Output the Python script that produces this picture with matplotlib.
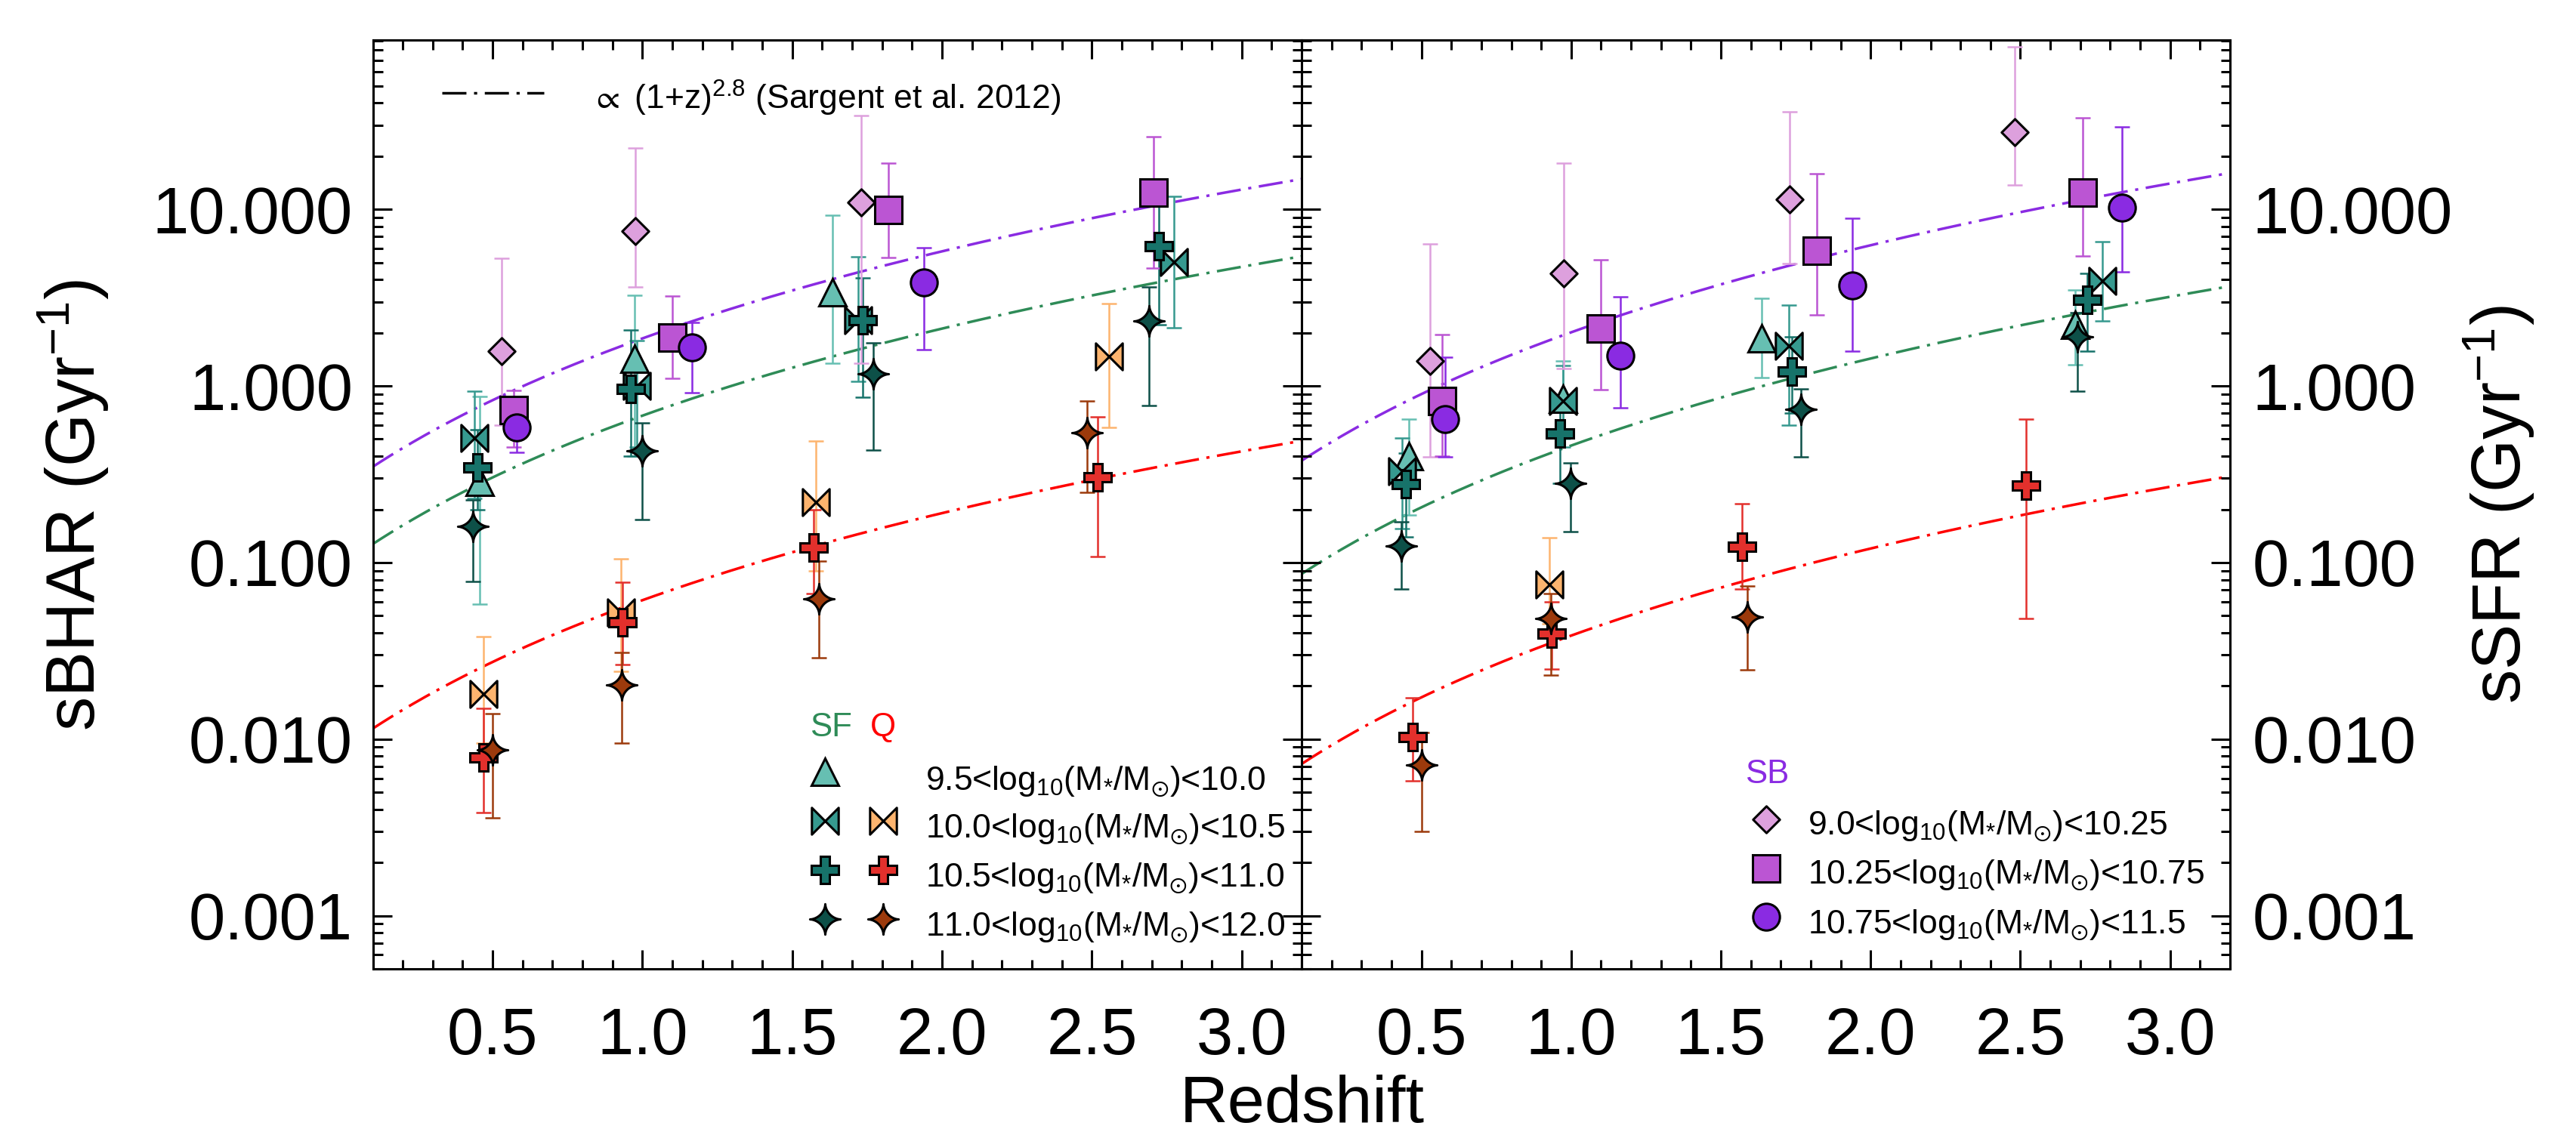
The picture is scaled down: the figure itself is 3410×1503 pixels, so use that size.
import numpy as np
import matplotlib
matplotlib.use('Agg')
import matplotlib.pyplot as plt
from matplotlib.path import Path
from matplotlib.ticker import FixedLocator, LogLocator, MultipleLocator, NullFormatter

plt.rcParams['font.family'] = ['Liberation Sans', 'DejaVu Sans']
plt.rcParams['mathtext.fontset'] = 'custom'
plt.rcParams['mathtext.rm'] = 'Liberation Sans'
plt.rcParams['mathtext.it'] = 'Liberation Sans:italic'
plt.rcParams['mathtext.bf'] = 'Liberation Sans:bold'
plt.rcParams['mathtext.sf'] = 'Liberation Sans'
plt.rcParams['mathtext.fallback'] = 'stixsans'

# ---------------- data: left panel (sBHAR) ----------------
bhar_sf_tri_z = [0.457, 0.973, 1.635]
bhar_sf_tri_y = [0.287, 1.42, 3.38]
bhar_sf_tri_lo = [0.058, 0.40, 1.34]
bhar_sf_tri_hi = [0.87, 3.27, 9.25]

bhar_sf_bow_z = [0.44, 0.98, 1.72, 2.774]
bhar_sf_bow_y = [0.505, 1.0, 2.36, 5.05]
bhar_sf_bow_lo = [0.23, 0.45, 1.06, 2.14]
bhar_sf_bow_hi = [0.93, 1.8, 5.4, 11.9]

bhar_sf_crs_z = [0.448, 0.96, 1.736, 2.724]
bhar_sf_crs_y = [0.346, 0.96, 2.36, 6.21]
bhar_sf_crs_lo = [0.20, 0.40, 0.865, 2.23]
bhar_sf_crs_hi = [0.568, 2.08, 4.08, 11.0]

bhar_sf_star_z = [0.433, 0.998, 1.77, 2.69]
bhar_sf_star_y = [0.16, 0.43, 1.17, 2.34]
bhar_sf_star_lo = [0.078, 0.176, 0.435, 0.776]
bhar_sf_star_hi = [0.227, 0.62, 1.75, 3.63]

bhar_q_bow_z = [0.47, 0.928, 1.58, 2.557]
bhar_q_bow_y = [0.018, 0.052, 0.22, 1.47]
bhar_q_bow_lo = [0.0095, 0.0243, 0.09, 0.58]
bhar_q_bow_hi = [0.038, 0.105, 0.486, 2.92]

bhar_q_crs_z = [0.47, 0.934, 1.57, 2.52]
bhar_q_crs_y = [0.0079, 0.046, 0.122, 0.304]
bhar_q_crs_lo = [0.00384, 0.0265, 0.067, 0.108]
bhar_q_crs_hi = [0.015, 0.077, 0.20, 0.67]

bhar_q_star_z = [0.50, 0.931, 1.588, 2.483]
bhar_q_star_y = [0.0087, 0.0202, 0.062, 0.546]
bhar_q_star_lo = [0.00359, 0.0095, 0.029, 0.25]
bhar_q_star_hi = [0.014, 0.031, 0.102, 0.82]

bhar_sb_dia_z = [0.53, 0.976, 1.73]
bhar_sb_dia_y = [1.57, 7.55, 11.0]
bhar_sb_dia_lo = [0.6, 3.65, 1.34]
bhar_sb_dia_hi = [5.3, 22.2, 34.0]

bhar_sb_sq_z = [0.57, 1.10, 1.82, 2.707]
bhar_sb_sq_y = [0.73, 1.88, 9.9, 12.5]
bhar_sb_sq_lo = [0.45, 1.10, 5.35, 4.67]
bhar_sb_sq_hi = [0.94, 3.23, 18.3, 25.7]

bhar_sb_cir_z = [0.58, 1.165, 1.94]
bhar_sb_cir_y = [0.58, 1.65, 3.84]
bhar_sb_cir_lo = [0.42, 0.92, 1.6]
bhar_sb_cir_hi = [0.79, 2.29, 6.07]

# ---------------- data: right panel (sSFR) ----------------
ssfr_sf_tri_z = [0.457, 0.973, 1.635, 2.684]
ssfr_sf_tri_y = [0.40, 0.85, 1.87, 2.23]
ssfr_sf_tri_lo = [0.185, 0.50, 1.11, 1.32]
ssfr_sf_tri_hi = [0.646, 1.39, 3.14, 3.51]

ssfr_sf_bow_z = [0.435, 0.973, 1.728, 2.774]
ssfr_sf_bow_y = [0.329, 0.82, 1.69, 3.95]
ssfr_sf_bow_lo = [0.155, 0.45, 0.60, 2.33]
ssfr_sf_bow_hi = [0.505, 1.30, 2.87, 6.56]

ssfr_sf_crs_z = [0.448, 0.963, 1.738, 2.724]
ssfr_sf_crs_y = [0.278, 0.536, 1.21, 3.07]
ssfr_sf_crs_lo = [0.14, 0.28, 0.70, 1.58]
ssfr_sf_crs_hi = [0.416, 0.75, 1.9, 4.32]

ssfr_sf_star_z = [0.433, 0.998, 1.768, 2.69]
ssfr_sf_star_y = [0.124, 0.28, 0.738, 1.9]
ssfr_sf_star_lo = [0.071, 0.149, 0.395, 0.936]
ssfr_sf_star_hi = [0.17, 0.365, 0.96, 2.6]

ssfr_q_bow_z = [0.928]
ssfr_q_bow_y = [0.0754]
ssfr_q_bow_lo = [0.045]
ssfr_q_bow_hi = [0.138]

ssfr_q_crs_z = [0.47, 0.934, 1.57, 2.52]
ssfr_q_crs_y = [0.0103, 0.0395, 0.123, 0.273]
ssfr_q_crs_lo = [0.00578, 0.025, 0.071, 0.048]
ssfr_q_crs_hi = [0.0171, 0.06, 0.216, 0.646]

ssfr_q_star_z = [0.50, 0.933, 1.588]
ssfr_q_star_y = [0.00716, 0.048, 0.049]
ssfr_q_star_lo = [0.0030, 0.0231, 0.0248]
ssfr_q_star_hi = [0.0109, 0.067, 0.074]

ssfr_sb_dia_z = [0.53, 0.976, 1.73, 2.48]
ssfr_sb_dia_y = [1.38, 4.32, 11.4, 27.3]
ssfr_sb_dia_lo = [0.395, 1.26, 4.92, 13.8]
ssfr_sb_dia_hi = [6.38, 18.3, 35.8, 83.0]

ssfr_sb_sq_z = [0.57, 1.10, 1.82, 2.707]
ssfr_sb_sq_y = [0.82, 2.12, 5.83, 12.4]
ssfr_sb_sq_lo = [0.40, 0.955, 2.53, 5.46]
ssfr_sb_sq_hi = [1.96, 5.19, 16.0, 33.1]

ssfr_sb_cir_z = [0.58, 1.165, 1.94, 2.84]
ssfr_sb_cir_y = [0.65, 1.49, 3.7, 10.2]
ssfr_sb_cir_lo = [0.395, 0.753, 1.58, 4.44]
ssfr_sb_cir_hi = [1.45, 3.19, 8.9, 29.3]

# (1+z)^2.8 normalisations (Sargent et al. 2012 scaling)
model_index = 2.8
bhar_norm_sb, bhar_norm_sf, bhar_norm_q = 0.267, 0.0975, 0.00879
ssfr_norm_sb, ssfr_norm_sf, ssfr_norm_q = 0.289, 0.066, 0.00554

# tick labels / text
y_ticks = [1e-3, 1e-2, 1e-1, 1.0, 10.0]
y_ticklabels = ['0.001', '0.010', '0.100', '1.000', '10.000']
x_ticks = [0.5, 1.0, 1.5, 2.0, 2.5, 3.0]
x_ticklabels = ['0.5', '1.0', '1.5', '2.0', '2.5', '3.0']
sfq_labels = [r'9.5<log$_{10}$(M$_{*}$/M$_{\odot}$)<10.0',
              r'10.0<log$_{10}$(M$_{*}$/M$_{\odot}$)<10.5',
              r'10.5<log$_{10}$(M$_{*}$/M$_{\odot}$)<11.0',
              r'11.0<log$_{10}$(M$_{*}$/M$_{\odot}$)<12.0']
sb_labels = [r'9.0<log$_{10}$(M$_{*}$/M$_{\odot}$)<10.25',
             r'10.25<log$_{10}$(M$_{*}$/M$_{\odot}$)<10.75',
             r'10.75<log$_{10}$(M$_{*}$/M$_{\odot}$)<11.5']

# ---------------- styles ----------------
C_SF1, C_SF2, C_SF3, C_SF4 = '#66bfb2', '#36998f', '#17736a', '#0d5048'
C_Q2, C_Q3, C_Q4 = '#fdb46e', '#e3302c', '#9c3a0c'
C_SB1, C_SB2, C_SB3 = '#dda0dd', '#bb55d3', '#8a2be2'
L_SB, L_SF, L_Q = '#8a2be2', '#2e8b57', '#ff0000'

bowtie = Path([(-1, -1), (-1, 1), (1, -1), (1, 1), (-1, -1)],
              [Path.MOVETO, Path.LINETO, Path.LINETO, Path.LINETO, Path.CLOSEPOLY])
diamond = Path([(0, 1), (1, 0), (0, -1), (-1, 0), (0, 1)],
               [Path.MOVETO, Path.LINETO, Path.LINETO, Path.LINETO, Path.CLOSEPOLY])
_t = np.linspace(0, 2 * np.pi, 241)[:-1]
_e = 2 / 0.6
_sx = np.sign(np.cos(_t)) * np.abs(np.cos(_t)) ** _e
_sy = np.sign(np.sin(_t)) * np.abs(np.sin(_t)) ** _e
_sv = np.vstack([np.column_stack([_sx, _sy]), [[_sx[0], _sy[0]]]])
star4 = Path(_sv, [Path.MOVETO] + [Path.LINETO] * (len(_sx) - 1) + [Path.CLOSEPOLY])

MS = 25.5
MS_STAR = 29
MEW = 2.2
DASH = (0, (9.2, 2.9, 1.2, 2.9))

W, H = 3410, 1503
fig = plt.figure(figsize=(W / 100, H / 100), dpi=100)
axL = fig.add_axes([493.5 / W, 1 - 1283 / H, 1229.5 / W, 1230 / H])
axR = fig.add_axes([1723 / W, 1 - 1283 / H, 1229 / W, 1230 / H])


def series(ax, z, y, lo, hi, marker, color, ms=MS):
    z = np.asarray(z, float)
    y = np.asarray(y, float)
    yerr = [y - np.asarray(lo, float), np.asarray(hi, float) - y]
    ax.errorbar(z, y, yerr=yerr, fmt='none', ecolor=color, elinewidth=1.8,
                capsize=7, capthick=1.8, zorder=2)
    ax.plot(z, y, linestyle='none', marker=marker, ms=ms, mfc=color,
            mec='black', mew=MEW, zorder=3)


zgrid = np.linspace(0.1, 3.2, 300)
for ax, norms in ((axL, (bhar_norm_sb, bhar_norm_sf, bhar_norm_q)),
                  (axR, (ssfr_norm_sb, ssfr_norm_sf, ssfr_norm_q))):
    for nrm, col in zip(norms, (L_SB, L_SF, L_Q)):
        ax.plot(zgrid, nrm * (1 + zgrid) ** model_index, color=col, lw=2.5,
                linestyle=DASH, zorder=1)

# left panel points
series(axL, bhar_sf_tri_z, bhar_sf_tri_y, bhar_sf_tri_lo, bhar_sf_tri_hi, '^', C_SF1)
series(axL, bhar_sf_bow_z, bhar_sf_bow_y, bhar_sf_bow_lo, bhar_sf_bow_hi, bowtie, C_SF2)
series(axL, bhar_sf_crs_z, bhar_sf_crs_y, bhar_sf_crs_lo, bhar_sf_crs_hi, 'P', C_SF3)
series(axL, bhar_sf_star_z, bhar_sf_star_y, bhar_sf_star_lo, bhar_sf_star_hi, star4, C_SF4, MS_STAR)
series(axL, bhar_q_bow_z, bhar_q_bow_y, bhar_q_bow_lo, bhar_q_bow_hi, bowtie, C_Q2)
series(axL, bhar_q_crs_z, bhar_q_crs_y, bhar_q_crs_lo, bhar_q_crs_hi, 'P', C_Q3)
series(axL, bhar_q_star_z, bhar_q_star_y, bhar_q_star_lo, bhar_q_star_hi, star4, C_Q4, MS_STAR)
series(axL, bhar_sb_dia_z, bhar_sb_dia_y, bhar_sb_dia_lo, bhar_sb_dia_hi, diamond, C_SB1)
series(axL, bhar_sb_sq_z, bhar_sb_sq_y, bhar_sb_sq_lo, bhar_sb_sq_hi, 's', C_SB2)
series(axL, bhar_sb_cir_z, bhar_sb_cir_y, bhar_sb_cir_lo, bhar_sb_cir_hi, 'o', C_SB3)

# right panel points
series(axR, ssfr_sf_tri_z, ssfr_sf_tri_y, ssfr_sf_tri_lo, ssfr_sf_tri_hi, '^', C_SF1)
series(axR, ssfr_sf_bow_z, ssfr_sf_bow_y, ssfr_sf_bow_lo, ssfr_sf_bow_hi, bowtie, C_SF2)
series(axR, ssfr_sf_crs_z, ssfr_sf_crs_y, ssfr_sf_crs_lo, ssfr_sf_crs_hi, 'P', C_SF3)
series(axR, ssfr_sf_star_z, ssfr_sf_star_y, ssfr_sf_star_lo, ssfr_sf_star_hi, star4, C_SF4, MS_STAR)
series(axR, ssfr_q_bow_z, ssfr_q_bow_y, ssfr_q_bow_lo, ssfr_q_bow_hi, bowtie, C_Q2)
series(axR, ssfr_q_crs_z, ssfr_q_crs_y, ssfr_q_crs_lo, ssfr_q_crs_hi, 'P', C_Q3)
series(axR, ssfr_q_star_z, ssfr_q_star_y, ssfr_q_star_lo, ssfr_q_star_hi, star4, C_Q4, MS_STAR)
series(axR, ssfr_sb_dia_z, ssfr_sb_dia_y, ssfr_sb_dia_lo, ssfr_sb_dia_hi, diamond, C_SB1)
series(axR, ssfr_sb_sq_z, ssfr_sb_sq_y, ssfr_sb_sq_lo, ssfr_sb_sq_hi, 's', C_SB2)
series(axR, ssfr_sb_cir_z, ssfr_sb_cir_y, ssfr_sb_cir_lo, ssfr_sb_cir_hi, 'o', C_SB3)

for ax in (axL, axR):
    ax.set_yscale('log')
    ax.set_xlim(0.1, 3.2)
    ax.set_ylim(5e-4, 91)
    ax.yaxis.set_major_locator(FixedLocator(y_ticks))
    ax.yaxis.set_minor_locator(LogLocator(base=10, subs=np.arange(2, 10)))
    ax.yaxis.set_minor_formatter(NullFormatter())
    ax.set_yticklabels(y_ticklabels)
    ax.set_xticks(x_ticks)
    ax.set_xticklabels(x_ticklabels)
    ax.xaxis.set_minor_locator(MultipleLocator(0.1))
    ax.tick_params(which='both', direction='in', top=True, bottom=True,
                   left=True, right=True, width=2.2, labelsize=62.5)
    ax.tick_params(which='major', length=18)
    ax.tick_params(which='minor', length=9)
    ax.tick_params(axis='x', pad=36)
    for sp in ax.spines.values():
        sp.set_linewidth(2.2)

axL.tick_params(axis='y', labelleft=True, labelright=False, pad=19)
axR.tick_params(axis='y', labelleft=False, labelright=True, pad=21)

# top-left model legend
axL.plot([0.0741, 0.1845], [0.9431, 0.9431], transform=axL.transAxes,
         color='black', lw=2.5, linestyle=DASH, clip_on=False)
axL.text(0.2343, 0.9252, r'$\propto$ (1+z)$^{2.8}$ (Sargent et al. 2012)',
         transform=axL.transAxes, fontsize=32, va='baseline', ha='left')

# SF / Q legend
axL.text(0.4703, 0.2505, 'SF', color=L_SF, transform=axL.transAxes,
         fontsize=31.5, va='baseline', ha='left')
axL.text(0.5354, 0.2505, 'Q', color=L_Q, transform=axL.transAxes,
         fontsize=31.5, va='baseline', ha='left')
row_y = [0.2122, 0.1593, 0.1063, 0.0538]
txt_y = [0.1932, 0.1415, 0.0886, 0.0361]
sf_marks = [('^', C_SF1, MS), (bowtie, C_SF2, MS), ('P', C_SF3, MS), (star4, C_SF4, MS_STAR)]
q_marks = [None, (bowtie, C_Q2, MS), ('P', C_Q3, MS), (star4, C_Q4, MS_STAR)]
for i in range(4):
    m, c, s = sf_marks[i]
    axL.plot([0.4866], [row_y[i]], transform=axL.transAxes, linestyle='none',
             marker=m, ms=s, mfc=c, mec='black', mew=MEW, clip_on=False)
    if q_marks[i] is not None:
        m, c, s = q_marks[i]
        axL.plot([0.5496], [row_y[i]], transform=axL.transAxes, linestyle='none',
                 marker=m, ms=s, mfc=c, mec='black', mew=MEW, clip_on=False)
    axL.text(0.5947, txt_y[i], sfq_labels[i], transform=axL.transAxes,
             fontsize=32, va='baseline', ha='left')

# SB legend
axR.text(0.4776, 0.1996, 'SB', color=L_SB, transform=axR.transAxes,
         fontsize=31.5, va='baseline', ha='left')
sb_row_y = [0.161, 0.1085, 0.0564]
sb_txt_y = [0.1447, 0.0919, 0.0387]
sb_marks = [(diamond, C_SB1), ('s', C_SB2), ('o', C_SB3)]
for i in range(3):
    m, c = sb_marks[i]
    axR.plot([0.5004], [sb_row_y[i]], transform=axR.transAxes, linestyle='none',
             marker=m, ms=MS, mfc=c, mec='black', mew=MEW, clip_on=False)
    axR.text(0.5452, sb_txt_y[i], sb_labels[i], transform=axR.transAxes,
             fontsize=32, va='baseline', ha='left')

# axis titles
fig.text(97 / W, 1 - 669 / H, r'sBHAR (Gyr$^{-1}$)', rotation=90,
         fontsize=65, ha='center', va='center')
fig.text(3308 / W, 1 - 668 / H, r'sSFR (Gyr$^{-1}$)', rotation=90,
         fontsize=65, ha='center', va='center')
fig.text(1724 / W, 1 - 1486 / H, 'Redshift', fontsize=63.5,
         ha='center', va='baseline')

fig.savefig('out.png', dpi=100, facecolor='white')
